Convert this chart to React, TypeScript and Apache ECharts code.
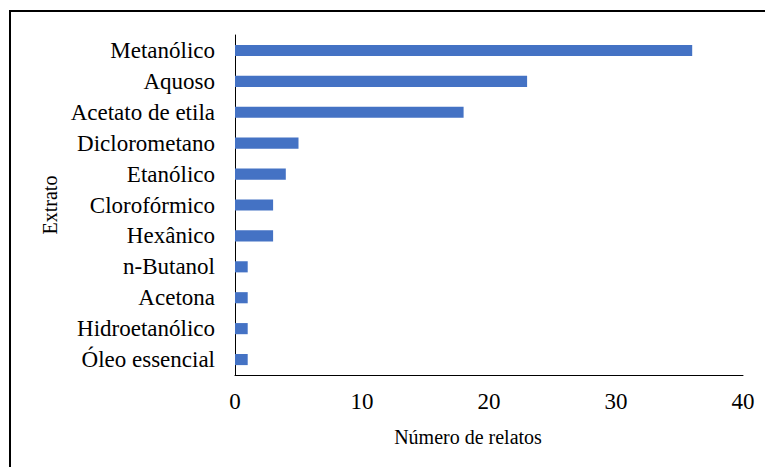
import React, { useEffect, useRef } from "react";
import * as echarts from "echarts";

const categories = [
  "Metanólico",
  "Aquoso",
  "Acetato de etila",
  "Diclorometano",
  "Etanólico",
  "Clorofórmico",
  "Hexânico",
  "n-Butanol",
  "Acetona",
  "Hidroetanólico",
  "Óleo essencial",
];
const values = [36, 23, 18, 5, 4, 3, 3, 1, 1, 1, 1];
const xAxisName = "Número de relatos";
const yAxisName = "Extrato";

const FONT = "Liberation Serif";

export default function App() {
  const ref = useRef<HTMLDivElement>(null);
  useEffect(() => {
    if (!ref.current) return;
    const chart = echarts.init(ref.current, null, { renderer: "svg" });
    chart.setOption({
      animation: false,
      backgroundColor: "#ffffff",
      textStyle: { fontFamily: FONT, color: "#000" },
      graphic: [
        {
          type: "rect",
          shape: { x: 10, y: 11, width: 800, height: 500 },
          style: { fill: "none", stroke: "#000", lineWidth: 2 },
          silent: true,
        },
      ],
      grid: { left: 235, right: 22, top: 35, bottom: 92, containLabel: false },
      xAxis: {
        type: "value",
        min: 0,
        max: 40,
        interval: 10,
        splitLine: { show: false },
        axisTick: { show: false },
        axisLine: { show: true, lineStyle: { color: "#000", width: 1 } },
        axisLabel: { color: "#000", fontSize: 23, fontFamily: FONT, margin: 15 },
        name: xAxisName,
        nameLocation: "middle",
        nameGap: 52,
        nameTextStyle: {
          color: "#000",
          fontSize: 20,
          fontFamily: FONT,
          padding: [0, 42, 0, 0],
        },
      },
      yAxis: {
        type: "category",
        data: categories,
        inverse: true,
        axisTick: { show: false },
        axisLine: { show: true, lineStyle: { color: "#000", width: 1 } },
        axisLabel: { color: "#000", fontSize: 23, fontFamily: FONT, margin: 20 },
        name: yAxisName,
        nameLocation: "middle",
        nameRotate: 90,
        nameGap: 175,
        nameTextStyle: { color: "#000", fontSize: 20, fontFamily: FONT },
      },
      series: [
        {
          type: "bar",
          data: values,
          barCategoryGap: "64%",
          itemStyle: { color: "#4472C4" },
        },
      ],
    });
    return () => chart.dispose();
  }, []);
  return (
    <div
      ref={ref}
      style={{ position: "fixed", left: 0, top: 0, width: 765, height: 467 }}
    />
  );
}
